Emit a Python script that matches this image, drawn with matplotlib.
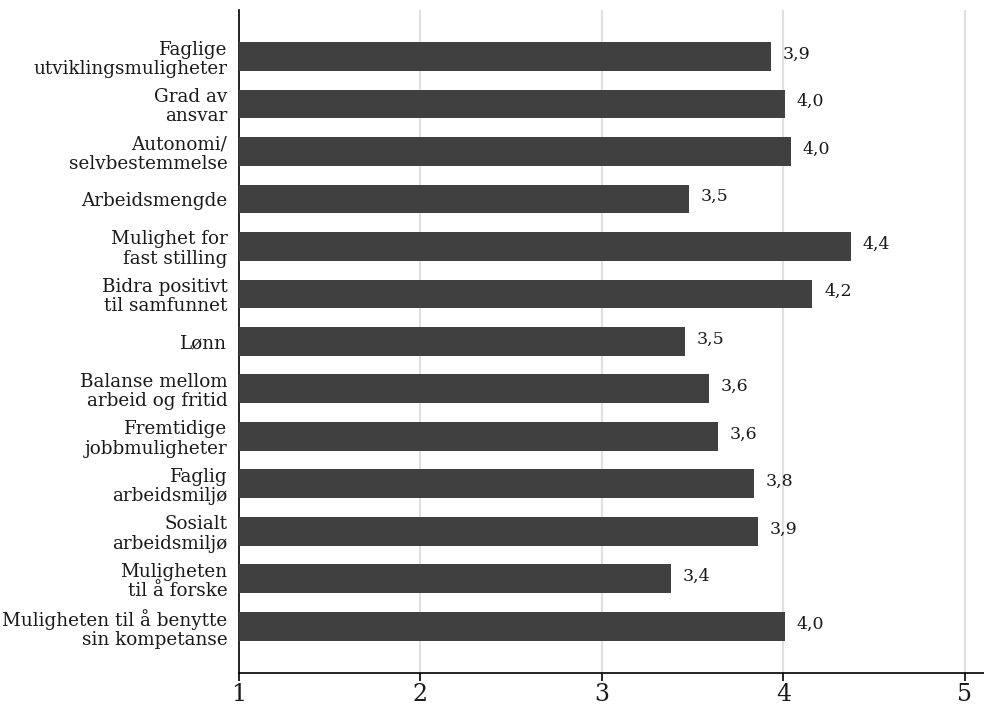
import matplotlib
matplotlib.use("Agg")
import matplotlib.pyplot as plt

# Data
categories = [
    "Faglige\nutviklingsmuligheter",
    "Grad av\nansvar",
    "Autonomi/\nselvbestemmelse",
    "Arbeidsmengde",
    "Mulighet for\nfast stilling",
    "Bidra positivt\ntil samfunnet",
    "Lønn",
    "Balanse mellom\narbeid og fritid",
    "Fremtidige\njobbmuligheter",
    "Faglig\narbeidsmiljø",
    "Sosialt\narbeidsmiljø",
    "Muligheten\ntil å forske",
    "Muligheten til å benytte\nsin kompetanse",
]
values = [3.93, 4.01, 4.04, 3.48, 4.37, 4.16, 3.46, 3.59, 3.64, 3.84, 3.86, 3.38, 4.01]
xticks = [1, 2, 3, 4, 5]

plt.rcParams['font.family'] = ['DejaVu Serif']

fig = plt.figure(figsize=(9.84, 7.07), dpi=100)
ax = fig.add_axes([0.2424, 0.0481, 0.7576, 0.9378])

ypos = list(range(len(categories)))
ax.barh(ypos, [v - 1 for v in values], left=1, height=0.61, color='#404040', zorder=3)

for y, v in zip(ypos, values):
    ax.text(v + 0.065, y - 0.05, f"{v:.1f}".replace('.', ','), va='center', ha='left',
            fontsize=12.5, color='#1a1a1a', zorder=4)

ax.set_xlim(1, 5.105)
ax.set_ylim(len(categories) - 0.02, -0.98)
ax.set_yticks(ypos)
ax.set_yticklabels(categories, fontsize=13.2, color='#1a1a1a', linespacing=1.08)
ax.tick_params(axis='y', length=0, pad=8)
ax.set_xticks(xticks)
ax.set_xticklabels([str(t) for t in xticks], fontsize=17, color='#1a1a1a')
ax.tick_params(axis='x', length=6, width=1.2, pad=1, direction='out')

for x in xticks[1:]:
    ax.axvline(x, color='#e0e0e0', linewidth=1.5, zorder=1)

ax.spines['top'].set_visible(False)
ax.spines['right'].set_visible(False)
ax.spines['left'].set_linewidth(1.2)
ax.spines['bottom'].set_linewidth(1.2)

fig.savefig('out.png', dpi=100)
